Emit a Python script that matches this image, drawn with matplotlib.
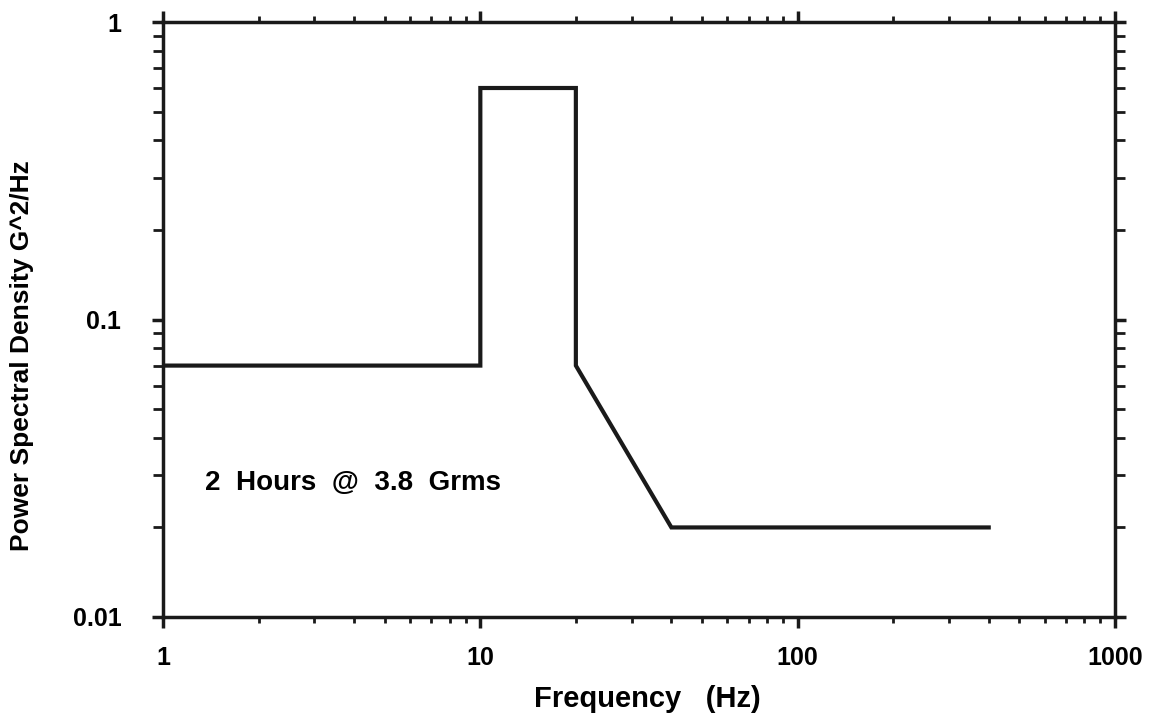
import numpy as np
import matplotlib
matplotlib.use('Agg')
import matplotlib.pyplot as plt
from matplotlib.ticker import LogLocator, NullFormatter, FixedLocator

# PSD profile breakpoints
freq = [1, 10, 10, 20, 20, 40, 400]
psd = [0.07, 0.07, 0.6, 0.6, 0.07, 0.02, 0.02]

x_ticks = [1, 10, 100, 1000]
x_labels = ['1', '10', '100', '1000']
y_ticks = [0.01, 0.1, 1]
y_labels = ['0.01', '0.1', '1']

plt.rcParams['font.family'] = ['Liberation Sans', 'DejaVu Sans']
plt.rcParams['font.weight'] = 'bold'

fig = plt.figure(figsize=(11.49, 7.23), dpi=100)
ax = fig.add_axes([163/1149, 1 - 617/723, (1115-163)/1149, (617-22)/723])

ax.plot(freq, psd, color='#1a1a1a', lw=3, solid_joinstyle='miter')
ax.set_xscale('log')
ax.set_yscale('log')
ax.set_xlim(1, 1000)
ax.set_ylim(0.01, 1)

ax.xaxis.set_major_locator(FixedLocator(x_ticks))
ax.set_xticklabels(x_labels)
ax.yaxis.set_major_locator(FixedLocator(y_ticks))
ax.set_yticklabels(y_labels)
ax.xaxis.set_minor_locator(LogLocator(base=10, subs=np.arange(2, 10)))
ax.yaxis.set_minor_locator(LogLocator(base=10, subs=np.arange(2, 10)))
ax.xaxis.set_minor_formatter(NullFormatter())
ax.yaxis.set_minor_formatter(NullFormatter())

for s in ax.spines.values():
    s.set_linewidth(2.5)
    s.set_color('#1a1a1a')

ax.tick_params(which='both', top=True, right=True, direction='out', color='#1a1a1a')
ax.tick_params(which='major', length=8, width=2.5, labelsize=18)
ax.tick_params(axis='x', which='major', pad=13)
ax.tick_params(axis='y', which='major', pad=22)
ax.tick_params(axis='x', which='minor', length=4, width=2)
ax.tick_params(axis='y', which='minor', length=7, width=2)

ax.set_xlabel('Frequency   (Hz)', fontsize=21, fontweight='bold', va='center')
ax.xaxis.set_label_coords(0.509, -0.138)
ax.set_ylabel('Power Spectral Density G^2/Hz', fontsize=19, fontweight='bold', va='center')
ax.yaxis.set_label_coords(-0.148, 0.44)

ax.text(0.044, 0.225, '2  Hours  @  3.8  Grms', transform=ax.transAxes,
        fontsize=20, fontweight='bold', va='center', ha='left')

fig.savefig('out.png', dpi=100)
